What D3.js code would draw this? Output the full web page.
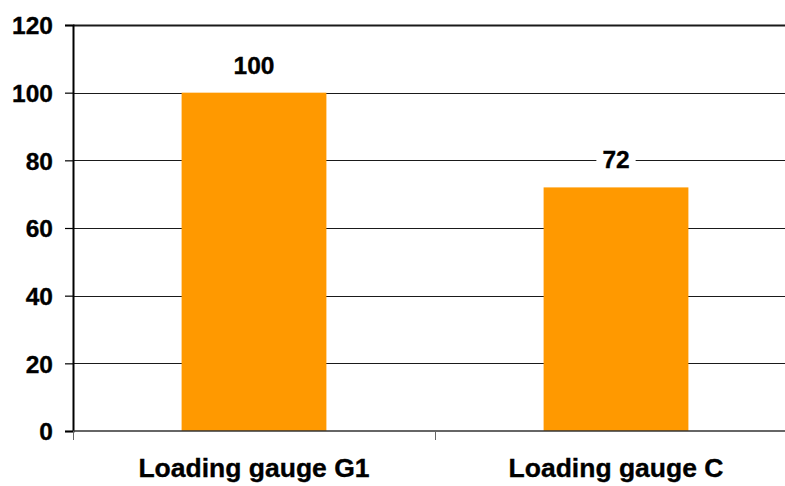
<!DOCTYPE html>
<html>
<head>
<meta charset="utf-8">
<script src="https://cdn.jsdelivr.net/npm/d3@7"></script>
<style>
  html, body { margin: 0; padding: 0; background: #fff; }
  svg { display: block; }
  text { font-family: "Liberation Sans", Arial, sans-serif; font-weight: bold; fill: #000; stroke: #000; stroke-width: 0.35px; }
</style>
</head>
<body>
<svg id="chart" width="785" height="486"></svg>
<script>
// Relative capacity per loading gauge
const categories = ["Loading gauge G1", "Loading gauge C"];
const values = [100, 72];
const yTicks = [0, 20, 40, 60, 80, 100, 120];

const svg = d3.select("#chart");
const margin = { left: 73, top: 25, bottom: 431 };
const plotRight = 797;

const x = d3.scaleBand()
  .domain(categories)
  .range([margin.left, plotRight])
  .paddingInner(0)
  .paddingOuter(0);

const y = d3.scaleLinear()
  .domain([0, 120])
  .range([margin.bottom, margin.top]);

// Horizontal gridlines
svg.append("g")
  .selectAll("line")
  .data(yTicks.filter(d => d > 0))
  .join("line")
  .attr("x1", margin.left)
  .attr("x2", 785)
  .attr("y1", d => Math.round(y(d)) + 0.5)
  .attr("y2", d => Math.round(y(d)) + 0.5)
  .attr("stroke", "#1a1a1a")
  .attr("stroke-width", d => d === 120 ? 2 : 1.2);

// Bars
const barW = x.bandwidth() * 0.4;
svg.append("g")
  .selectAll("rect")
  .data(values)
  .join("rect")
  .attr("x", (d, i) => x(categories[i]) + (x.bandwidth() - barW) / 2)
  .attr("width", barW)
  .attr("y", d => y(d))
  .attr("height", d => y(0) - y(d))
  .attr("fill", "#ff9900");

// Y axis
const yAxis = d3.axisLeft(y)
  .tickValues(yTicks)
  .tickSize(8)
  .tickPadding(12)
  .tickFormat(d3.format("d"));
const gy = svg.append("g")
  .attr("transform", `translate(${margin.left},0)`)
  .call(yAxis);
gy.select(".domain").attr("stroke", "#000").attr("stroke-width", 2);
gy.selectAll(".tick line").attr("stroke", "#000").attr("stroke-width", 1.2);
gy.selectAll(".tick text")
  .attr("font-size", 24.5)
  .attr("font-family", "Liberation Sans, Arial, sans-serif")
  .attr("font-weight", "bold")
  .attr("dy", "0.36em")
  .attr("fill", "#000");

// X axis baseline and category ticks
svg.append("line")
  .attr("x1", margin.left)
  .attr("x2", 785)
  .attr("y1", y(0))
  .attr("y2", y(0))
  .attr("stroke", "#333")
  .attr("stroke-width", 1.5);

const boundaries = categories.map(c => x(c));
svg.append("g")
  .selectAll("line")
  .data(boundaries)
  .join("line")
  .attr("x1", d => Math.round(d) + 0.5)
  .attr("x2", d => Math.round(d) + 0.5)
  .attr("y1", y(0))
  .attr("y2", y(0) + 9)
  .attr("stroke", "#666")
  .attr("stroke-width", 1);

// Category labels
svg.append("g")
  .selectAll("text")
  .data(categories)
  .join("text")
  .attr("x", d => x(d) + x.bandwidth() / 2)
  .attr("y", 477)
  .attr("text-anchor", "middle")
  .attr("font-size", 26.5)
  .text(d => d);

// Value labels with white backing
const labels = svg.append("g")
  .selectAll("g")
  .data(values)
  .join("g")
  .attr("transform", (d, i) => `translate(${x(categories[i]) + x.bandwidth() / 2},${y(d) - 19})`);
labels.each(function(d) {
  const g = d3.select(this);
  const t = g.append("text")
    .attr("text-anchor", "middle")
    .attr("font-size", 24.5)
    .text(d);
  const bb = t.node().getBBox();
  g.insert("rect", "text")
    .attr("x", bb.x - 6)
    .attr("y", bb.y - 1)
    .attr("width", bb.width + 12)
    .attr("height", bb.height + 2)
    .attr("fill", "#fff")
    .attr("stroke", "none");
});
</script>
</body>
</html>
